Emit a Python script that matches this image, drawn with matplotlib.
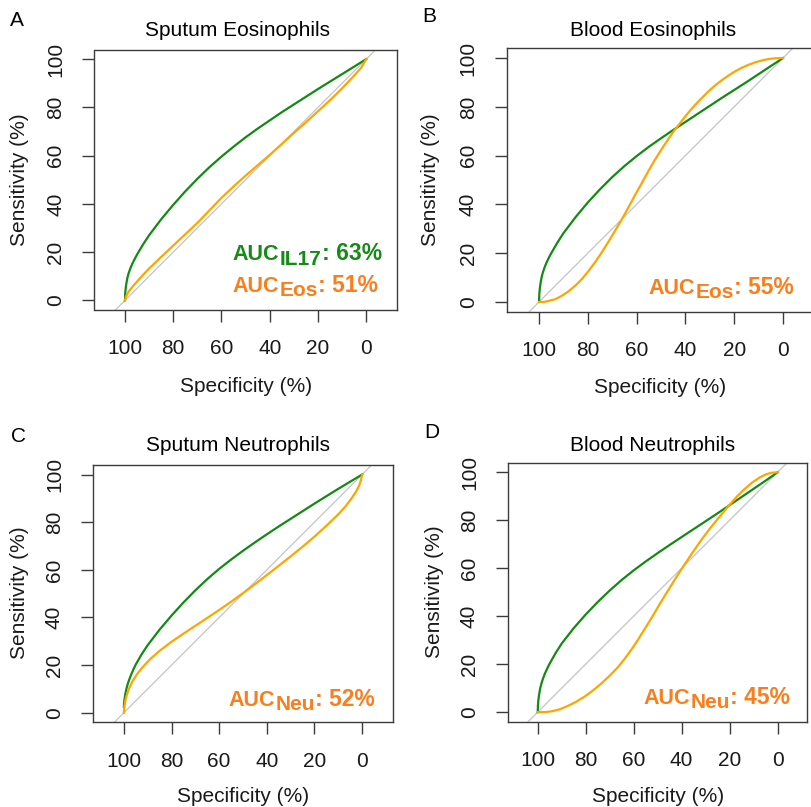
import matplotlib
matplotlib.use("Agg")
import matplotlib.pyplot as plt

W_PX, H_PX = 812, 807

# ---------------- data (specificity %, sensitivity %) ----------------
titles = ["Sputum Eosinophils", "Blood Eosinophils", "Sputum Neutrophils", "Blood Neutrophils"]
letters = ["A", "B", "C", "D"]
ticks = [0, 20, 40, 60, 80, 100]

green_spec = [100, 99.9, 99.7, 99.4, 99, 98.5, 97.8, 97, 96, 95, 92.5, 90, 85, 80, 75, 70, 65, 60, 55, 50, 45, 40, 35, 30, 25, 20, 15, 10, 5, 0]

# Panel A
a_green_sens = [0, 3.0, 5.1, 7.2, 9.4, 11.2, 13.2, 15.1, 17.1, 19.0, 23.2, 27.0, 33.6, 39.6, 45.2, 50.4, 55.2, 59.6, 63.7, 67.6, 71.2, 74.6, 78.0, 81.2, 84.4, 87.6, 90.7, 93.8, 96.9, 100]
a_orange_spec = [100, 99.5, 98.5, 97, 95, 92.5, 90, 85, 80, 75, 70, 65, 60, 55, 50, 45, 40, 35, 30, 25, 20, 15, 10, 5, 2, 0]
a_orange_sens = [0, 1.8, 3.6, 5.5, 7.8, 10.6, 13.2, 18, 22.7, 27.4, 32.1, 37.3, 42.5, 47.2, 51.7, 56, 60.3, 64.8, 69.4, 73.8, 78.4, 83, 87.9, 93.2, 96.5, 100]

# Panel B
b_green_sens = [0, 3.2, 5.4, 7.6, 9.9, 11.9, 14.0, 16.0, 18.1, 20.0, 24.3, 28.2, 34.8, 40.8, 46.2, 51.2, 55.7, 59.8, 63.6, 67.1, 70.5, 73.8, 77.1, 80.4, 83.7, 86.9, 90.1, 93.4, 96.7, 100]
b_orange_spec = [100, 98, 96.2, 93.4, 90.7, 88, 85.2, 82.5, 79.8, 77, 74.3, 71.6, 68.9, 66.1, 63.4, 60.7, 57.9, 55.2, 52.5, 49.7, 47, 44.3, 41.5, 38.8, 36.1, 33.3, 30.6, 27.9, 25.1, 22.4, 19.7, 16.9, 14.2, 11.5, 8.7, 6, 3, 0]
b_orange_sens = [0, 0, 0.4, 1.1, 2.5, 4.3, 6.6, 9.3, 12.6, 16.3, 20.3, 24.6, 29.1, 33.8, 38.7, 43.7, 48.7, 53.6, 58.3, 62.7, 66.8, 70.6, 74.2, 77.6, 80.7, 83.6, 86.3, 88.7, 90.9, 92.8, 94.5, 96.0, 97.2, 98.2, 99.0, 99.6, 99.9, 100]

# Panel C
c_green_sens = [2.5, 4.3, 6.0, 7.8, 9.8, 11.7, 13.8, 15.9, 18.2, 20.3, 24.6, 28.4, 34.9, 40.8, 46.3, 51.4, 56.1, 60.4, 64.3, 68.0, 71.5, 74.9, 78.2, 81.4, 84.6, 87.8, 90.9, 94.0, 97.0, 100]
c_orange_spec = [100, 99.8, 99.5, 99, 98, 96.5, 94.5, 92, 89, 85, 80, 75, 70, 65, 60, 55, 50, 45, 40, 35, 30, 25, 20, 15, 10, 7, 4.5, 2.5, 1.2, 0.4, 0]
c_orange_sens = [0, 2.5, 4.5, 6.8, 9.8, 13, 16.2, 19.3, 22.5, 26, 29.8, 33.2, 36.5, 39.8, 43.15, 46.6, 50.2, 53.95, 57.8, 61.7, 65.65, 69.7, 73.95, 78.5, 83.3, 86.6, 89.9, 92.9, 95.5, 97.9, 100]

# Panel D
d_green_sens = [0, 3.1, 5.3, 7.5, 9.8, 11.8, 14.0, 16.1, 18.3, 20.3, 24.7, 28.6, 35.0, 40.7, 45.9, 50.7, 55.1, 59.1, 62.8, 66.3, 69.7, 73.0, 76.3, 79.6, 82.9, 86.3, 89.7, 93.1, 96.5, 100]
d_orange_spec = [100, 97, 94.4, 91, 87.4, 84, 80.4, 77, 73.4, 70, 66.4, 63, 59.4, 56, 52.4, 49, 45.5, 42, 38.5, 35, 31.5, 28, 24.5, 21, 17.5, 14, 10.5, 7.5, 4.9, 2.5, 0]
d_orange_sens = [0, 0, 0.3, 1.1, 2.6, 4.3, 6.5, 9, 12, 15.2, 18.9, 23.2, 28.3, 33.7, 39.5, 45.3, 51, 56.6, 62, 67.2, 72.2, 76.8, 81.1, 85.3, 89.3, 92.8, 95.8, 97.8, 99.1, 99.8, 100]

# AUC annotations: (subscript, value text, colour key)
auc_labels = {
    "A": [("IL17", ": 63%", "green"), ("Eos", ": 51%", "orange")],
    "B": [("Eos", ": 55%", "orange")],
    "C": [("Neu", ": 52%", "orange")],
    "D": [("Neu", ": 45%", "orange")],
}

# ---------------- styling / layout ----------------
GREEN = "#138a13"
ORANGE = "#ffa500"
ORANGE_TXT = "#fb7d1c"
GREEN_TXT = "#168a16"
DIAG = "#c4c4c4"
FRAME = "#3c3c3c"
FONT = "Liberation Sans"

plt.rcParams["font.family"] = [FONT, "DejaVu Sans"]

# axes boxes in pixels: left, right, top, bottom
boxes = {
    "A": (94.5, 396.7, 49.5, 310.0),
    "B": (507.0, 815.0, 48.3, 311.7),
    "C": (93.3, 392.7, 465.0, 722.3),
    "D": (508.3, 807.0, 462.7, 721.7),
}
title_pos = {"A": (238, 30), "B": (653, 30), "C": (238, 445), "D": (653, 445)}
letter_pos = {"A": (17, 20), "B": (429, 17), "C": (19, 436), "D": (432, 433)}
xlab_pos = {"A": (246, 387), "B": (660, 388), "C": (243, 797), "D": (658, 797)}
ylab_pos = {"A": (20, 180), "B": (431, 180), "C": (20, 593), "D": (435, 592)}
auc_pos = {"A": [(232, 260), (232, 291.7)], "B": [(648, 293.5)], "C": [(228, 706)], "D": [(643, 704)]}

curves = {
    "A": [(green_spec, a_green_sens), (a_orange_spec, a_orange_sens)],
    "B": [(green_spec, b_green_sens), (b_orange_spec, b_orange_sens)],
    "C": [(green_spec, c_green_sens), (c_orange_spec, c_orange_sens)],
    "D": [(green_spec, d_green_sens), (d_orange_spec, d_orange_sens)],
}


def fx(x):
    return x / W_PX


def fy(y):
    return 1 - y / H_PX


fig = plt.figure(figsize=(W_PX / 100, H_PX / 100), dpi=100)
renderer = fig.canvas.get_renderer()

for key, title in zip(letters, titles):
    L, R, T, B = boxes[key]
    ax = fig.add_axes([fx(L), fy(B), (R - L) / W_PX, (B - T) / H_PX])
    half = (R - L) / (B - T) * 54.0
    ax.set_xlim(50 + half, 50 - half)
    ax.set_ylim(-4, 104)
    ax.axline((100, 0), (0, 100), color=DIAG, lw=0.9, zorder=1)
    (gs, gv), (os_, ov) = curves[key]
    ax.plot(gs, gv, color=GREEN, lw=1.6, zorder=3, solid_joinstyle="round")
    ax.plot(os_, ov, color=ORANGE, lw=1.6, zorder=3, solid_joinstyle="round")
    ax.set_xticks([100, 80, 60, 40, 20, 0])
    ax.set_xticklabels(["100", "80", "60", "40", "20", "0"])
    ax.set_yticks(ticks)
    ax.set_yticklabels([str(t) for t in ticks])
    ax.tick_params(direction="out", length=8.6, width=1.0, color=FRAME,
                   labelsize=15, labelcolor="#1a1a1a", pad=12.5)
    for lab in ax.get_yticklabels():
        lab.set_rotation(90)
        lab.set_va("center")
        lab.set_ha("right")
    for sp in ax.spines.values():
        sp.set_color(FRAME)
        sp.set_linewidth(1.0)

    fig.text(fx(title_pos[key][0]), fy(title_pos[key][1]), title, fontsize=15,
             ha="center", va="center", color="black")
    fig.text(fx(letter_pos[key][0]), fy(letter_pos[key][1]), key, fontsize=15,
             ha="center", va="center", color="black")
    fig.text(fx(xlab_pos[key][0]), fy(xlab_pos[key][1]), "Specificity (%)", fontsize=15,
             ha="center", va="center", color="#1a1a1a")
    fig.text(fx(ylab_pos[key][0]), fy(ylab_pos[key][1]), "Sensitivity (%)", fontsize=15,
             ha="center", va="center", rotation=90, color="#1a1a1a")

    for (sub, rest, ckey), (px, py) in zip(auc_labels[key], auc_pos[key]):
        col = GREEN_TXT if ckey == "green" else ORANGE_TXT
        t1 = fig.text(fx(px), fy(py), "AUC", fontsize=15.5, weight="bold", color=col,
                      ha="left", va="baseline")
        bb = t1.get_window_extent(renderer)
        t2 = fig.text((bb.x1 + 1) / W_PX, fy(py + 4.5), sub, fontsize=15, weight="bold",
                      color=col, ha="left", va="baseline")
        bb2 = t2.get_window_extent(renderer)
        fig.text((bb2.x1 + 0.5) / W_PX, fy(py), rest, fontsize=16.5, weight="bold", color=col,
                 ha="left", va="baseline")

fig.savefig("out.png", dpi=100)
